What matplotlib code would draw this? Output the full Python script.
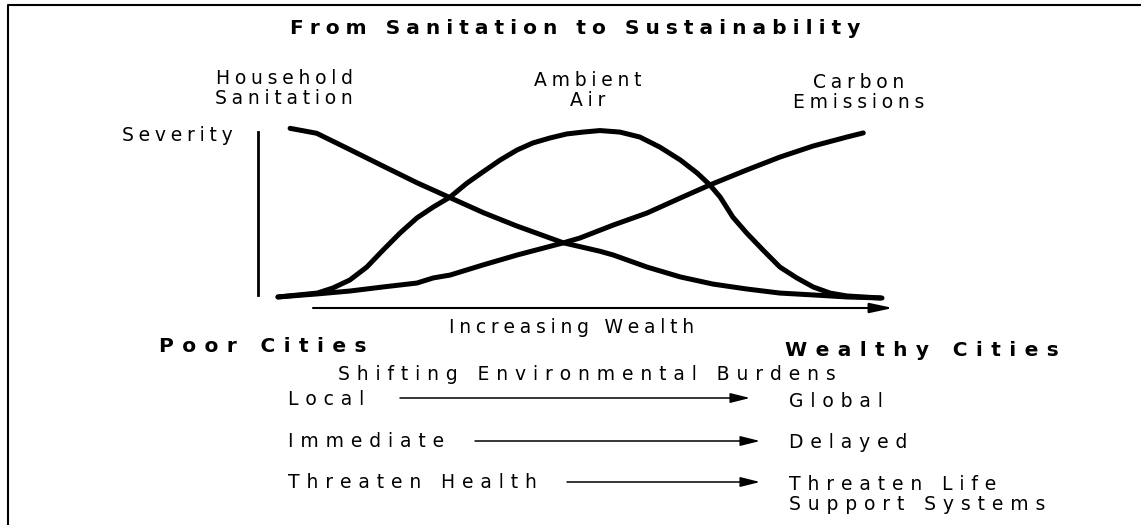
import matplotlib
matplotlib.use("Agg")
import matplotlib.pyplot as plt
from matplotlib.patches import FancyArrowPatch

plt.rcParams['font.family'] = ['DejaVu Sans']

W, H = 1141, 525

# curves: wealth (0-100) against severity (0-100)
sanitation_wealth = [2.0, 6.4, 11.9, 17.4, 23.0, 28.5, 34.0, 39.5, 47.2, 53.3, 55.5, 61.1,
                     66.6, 72.0, 77.6, 83.1, 88.6, 94.2, 100]
sanitation_severity = [99.8, 96.9, 87.3, 77.6, 67.8, 59.0, 50.2, 42.4, 32.5, 27.5, 25.3, 18.2,
                       12.4, 8.2, 5.3, 2.9, 1.8, 0.6, 0]

air_wealth = [0, 6.5, 9.1, 11.9, 14.7, 17.4, 20.2, 23.0, 25.7, 28.5, 31.3, 33.9, 36.8, 39.6,
              42.2, 45.0, 47.8, 50.5, 53.3, 56.6, 59.9, 63.2, 66.6, 69.4, 71.5, 73.2, 75.3,
              77.6, 80.3, 83.1, 85.9, 88.6, 91.4, 94.2, 99.7]
air_severity = [0.6, 2.9, 5.9, 10.6, 18.2, 28.2, 38.2, 47.1, 53.5, 59.4, 67.6, 74.1, 81.2, 87.1,
                91.2, 94.1, 96.5, 97.6, 98.5, 97.6, 94.7, 88.8, 81.2, 73.5, 66.5, 59.4, 47.6,
                38.2, 28.2, 18.2, 11.8, 6.5, 2.9, 1.2, 0]

carbon_wealth = [0, 6.5, 11.9, 17.4, 23.0, 25.7, 28.5, 33.9, 39.6, 47.2, 50.0, 55.5, 61.1,
                 66.6, 71.5, 77.6, 83.1, 88.6, 94.2, 96.9]
carbon_severity = [0.6, 2.4, 4.1, 6.5, 8.8, 11.8, 13.5, 19.4, 25.3, 32.4, 35.3, 42.9, 50.0,
                   58.8, 66.5, 75.3, 82.9, 89.4, 94.7, 97.1]

title = "From Sanitation to Sustainability"
curve_labels = ["Household\nSanitation", "Ambient\nAir", "Carbon\nEmissions"]
burdens_from = ["Local", "Immediate", "Threaten Health"]
burdens_to = ["Global", "Delayed", "Threaten Life\nSupport Systems"]

TITLE_GAP = '\u2009\u200a'
BOLD_GAP = '\u2005\u2006'
UP_GAP = '\u2005'
LOW_GAP = '\u2009\u2006'


def spaced(s, gap):
    # the scan is stretched sideways, so letters stand far apart
    return gap.join(s)


def arrow(ax, x_start, x_end, y, lw=1.1, hl=1.2, hw=0.3):
    ax.add_patch(FancyArrowPatch((x_start, y), (x_end, y),
                                 arrowstyle=f'-|>,head_length={hl},head_width={hw}',
                                 mutation_scale=10, lw=lw, color='black',
                                 shrinkA=0, shrinkB=0))


fig = plt.figure(figsize=(W / 100, H / 100), dpi=100)
ax = fig.add_axes([0, 0, 1, 1])
ax.set_xlim(0, W)
ax.set_ylim(H, 0)
ax.axis('off')

# frame (left and top only, the rest is cut off)
ax.plot([8, 8, W], [H, 5, 5], color='black', lw=1.5)

# curves on their own axes
x0, x1, y0, y1 = 278, 882, 298, 128
cax = fig.add_axes([x0 / W, (H - y0) / H, (x1 - x0) / W, (y0 - y1) / H])
cax.set_xlim(0, 100)
cax.set_ylim(0, 100)
cax.axis('off')
for xs, ys in [(sanitation_wealth, sanitation_severity),
               (air_wealth, air_severity),
               (carbon_wealth, carbon_severity)]:
    cax.plot(xs, ys, color='black', lw=3.6, solid_capstyle='round',
             solid_joinstyle='round', clip_on=False)

# severity axis and wealth arrow
ax.plot([258, 258], [132, 295], color='black', lw=2.0)
arrow(ax, 313, 893, 308, lw=1.5, hl=1.4, hw=0.3)

ax.text(575, 34, spaced(title, TITLE_GAP), ha='center', va='baseline',
        fontsize=14.5, fontweight='bold')

label_pos = [(284, 84), (588, 86), (859, 88)]
for lab, (x, y) in zip(curve_labels, label_pos):
    for i, line in enumerate(lab.split('\n')):
        ax.text(x, y + 20 * i, spaced(line, UP_GAP), ha='center', va='baseline', fontsize=13.5)

ax.text(177, 141, spaced("Severity", UP_GAP), ha='center', va='baseline', fontsize=13.5)
ax.text(572, 333, spaced("Increasing Wealth", UP_GAP), ha='center', va='baseline', fontsize=13.5)

ax.text(263, 352, spaced("Poor Cities", BOLD_GAP), ha='center', va='baseline',
        fontsize=14.5, fontweight='bold')
ax.text(922, 356, spaced("Wealthy Cities", BOLD_GAP), ha='center', va='baseline',
        fontsize=14.5, fontweight='bold')
ax.text(587, 380, spaced("Shifting Environmental Burdens", LOW_GAP), ha='center', va='baseline',
        fontsize=13.5)

row_y = [405, 447, 488]
to_y = [407, 448, 490]
arrow_x = [(400, 750), (475, 760), (567, 760)]
arrow_y = [398, 441, 482]
for a, b, ya, yb, (xs, xe), yl in zip(burdens_from, burdens_to, row_y, to_y, arrow_x, arrow_y):
    ax.text(288, ya, spaced(a, LOW_GAP), ha='left', va='baseline', fontsize=13.5)
    for i, line in enumerate(b.split('\n')):
        ax.text(789, yb + 20 * i, spaced(line, LOW_GAP), ha='left', va='baseline', fontsize=13.5)
    arrow(ax, xs, xe, yl)

plt.savefig('out.png', dpi=100)
